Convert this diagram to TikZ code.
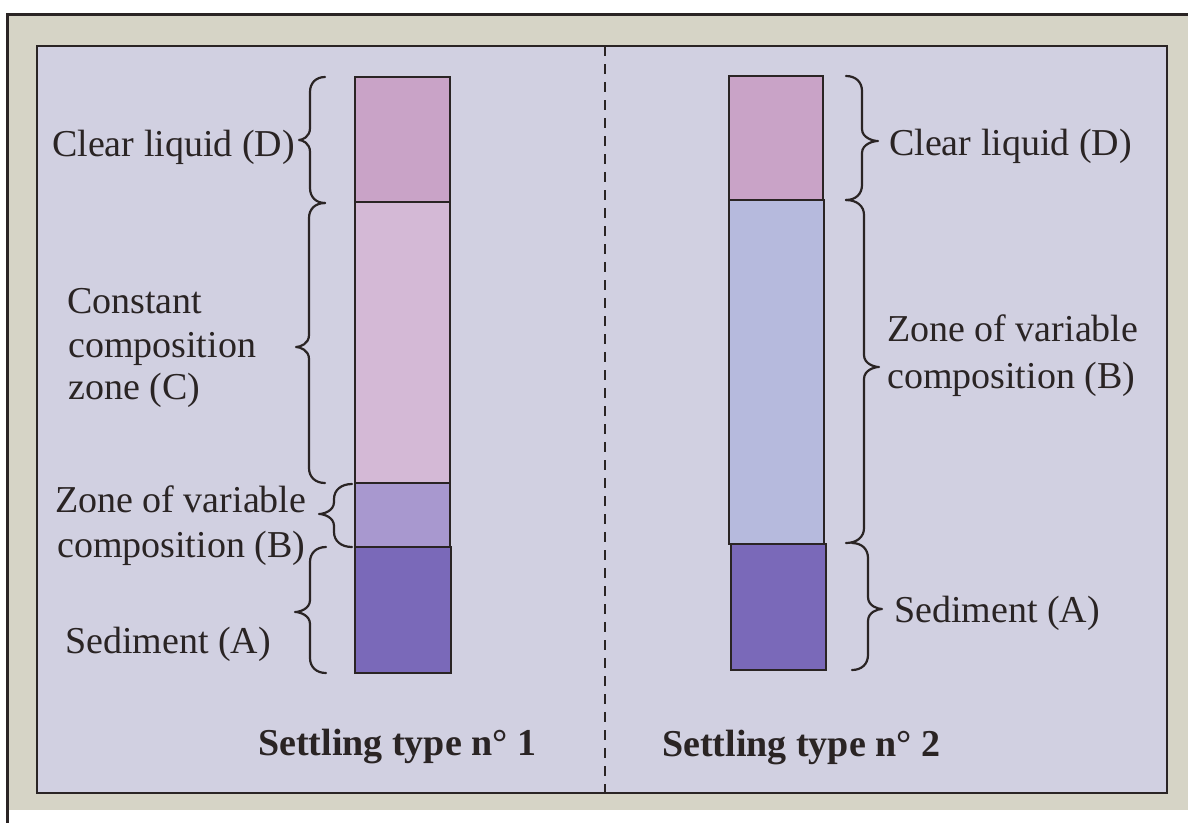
\documentclass[tikz,border=0pt]{standalone}
\usepackage{fontspec}
\setmainfont{Liberation Serif}
\definecolor{ink}{HTML}{2A2424}
\definecolor{framebg}{HTML}{D6D4C6}
\definecolor{panelbg}{HTML}{D1D0E1}
\definecolor{zoneD}{HTML}{C9A3C7}
\definecolor{zoneC}{HTML}{D4B9D6}
\definecolor{zoneBl}{HTML}{A898CF}
\definecolor{zoneBr}{HTML}{B6BADD}
\definecolor{zoneA}{HTML}{7A69B9}
\tikzset{
  seg/.style={draw=ink, line width=2.4pt},
  lab/.style={anchor=base west, inner sep=0pt, text=ink, font=\fontsize{38}{44}\selectfont},
  ttl/.style={anchor=base west, inner sep=0pt, text=ink, font=\fontsize{38}{44}\selectfont\bfseries},
  bracestyle/.style={draw=ink, line width=2.2pt, line cap=round, line join=round}
}
% #1 end x, #2 spine x, #3 tip x, #4 top y, #5 tip y, #6 bottom y
\newcommand{\zonebrace}[6]{%
  \draw[bracestyle] (#1,#4) .. controls ({#2+0.4*(#1-#2)},#4) and (#2,{#4+6}) .. (#2,{#4+15})
    -- (#2,{#5-12}) .. controls (#2,{#5-3}) and ({#3+0.3*(#2-#3)},#5) .. (#3,#5)
    .. controls ({#3+0.3*(#2-#3)},#5) and (#2,{#5+3}) .. (#2,{#5+12})
    -- (#2,{#6-15}) .. controls (#2,{#6-6}) and ({#2+0.4*(#1-#2)},#6) .. (#1,#6);}
\begin{document}
\begin{tikzpicture}[x=1pt,y=-1pt]
\useasboundingbox (0,0) rectangle (1188,823);
\fill[white] (0,0) rectangle (1188,823);
\fill[framebg] (7,14) rectangle (1188,810);
\draw[ink, line width=3pt] (1188,14.5) -- (7.5,14.5) -- (7.5,823);
\filldraw[fill=panelbg, draw=ink, line width=2pt] (37,46) rectangle (1167,793);
\draw[ink, line width=2pt, dash pattern=on 10pt off 8pt] (605,46) -- (605,793);

% left column
\filldraw[seg, fill=zoneD]  (355,77)  rectangle (450,202);
\filldraw[seg, fill=zoneC]  (355,202) rectangle (450,483);
\filldraw[seg, fill=zoneBl] (355,483) rectangle (450,547);
\filldraw[seg, fill=zoneA]  (355,547) rectangle (451,673);

% right column
\filldraw[seg, fill=zoneD]  (729,76)  rectangle (823,200);
\filldraw[seg, fill=zoneBr] (729,200) rectangle (824,544);
\filldraw[seg, fill=zoneA]  (731,544) rectangle (826,670);

% left braces
\zonebrace{325}{310}{299}{77}{140}{203}
\zonebrace{325}{309}{296}{203}{347}{483}
\zonebrace{352}{334}{319}{484}{514}{547}
\zonebrace{326}{310}{295}{547}{612}{673}

% right braces
\zonebrace{846}{862}{878}{76}{141}{200}
\zonebrace{846}{864}{879}{200}{367}{543}
\zonebrace{852}{868}{882}{543}{609}{670}

% left labels
\node[lab] (lD)  at (52,156) {Clear liquid (D)};
\node[lab] (lC1) at (67,313) {Constant};
\node[lab] (lC2) at (68,357) {composition};
\node[lab] (lC3) at (68,399) {zone (C)};
\node[lab] (lB1) at (55,512) {Zone of variable};
\node[lab] (lB2) at (57,557) {composition (B)};
\node[lab] (lA)  at (65,653) {Sediment (A)};
\node[ttl] (t1)  at (258,755) {Settling type n° 1};

% right labels
\node[lab] (rD)  at (889,155) {Clear liquid (D)};
\node[lab] (rB1) at (887,341) {Zone of variable};
\node[lab] (rB2) at (887,388) {composition (B)};
\node[lab] (rA)  at (894,622) {Sediment (A)};
\node[ttl] (t2)  at (662,756) {Settling type n° 2};
\end{tikzpicture}
\end{document}
